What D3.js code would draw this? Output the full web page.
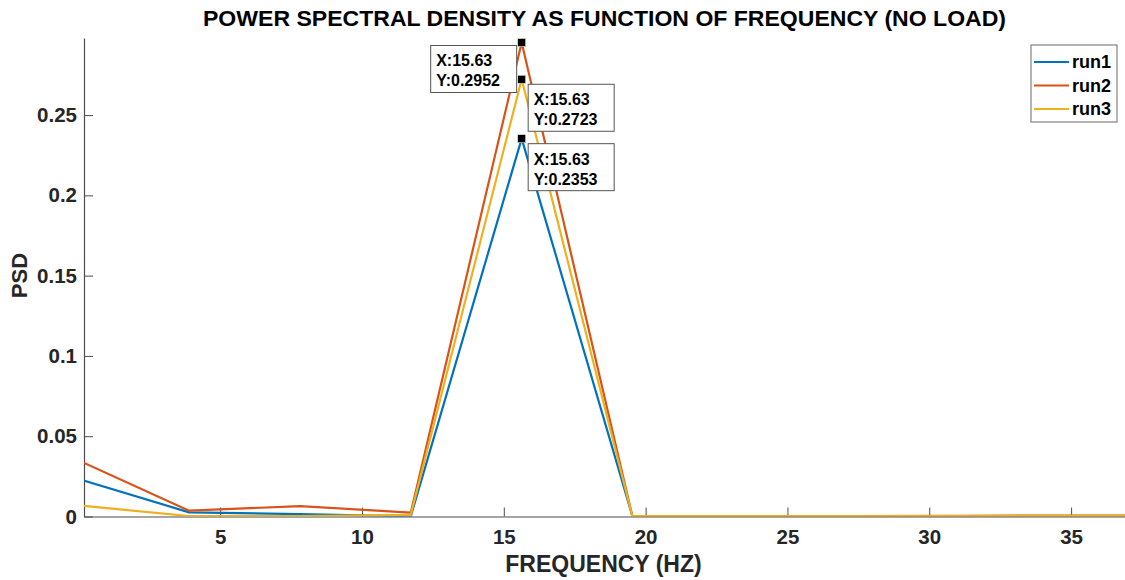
<!DOCTYPE html>
<html>
<head>
<meta charset="utf-8">
<script src="https://cdn.jsdelivr.net/npm/d3@7"></script>
<style>
  body { margin: 0; background: #fff; }
  svg { display: block; font-family: "Liberation Sans", Arial, Helvetica, sans-serif; }
</style>
</head>
<body>
<div id="chart"></div>
<script>
// data
const freqs = [0, 3.906, 7.813, 11.72, 15.63, 19.53, 23.44, 27.34, 31.25, 35.16, 39.06];
const run1 = [0.0234, 0.0026, 0.0015, 0.0001, 0.2353, 0.0004, 0.0002, 0.0001, 0.0001, 0.0002, 0.0002];
const run2 = [0.0350, 0.0036, 0.0065, 0.0024, 0.2952, 0.0003, 0.0003, 0.0002, 0.0004, 0.0006, 0.0006];
const run3 = [0.0069, 0.0003, 0.0003, 0.0010, 0.2723, 0.0002, 0.0003, 0.0002, 0.0003, 0.0004, 0.0004];
const seriesNames = ["run1", "run2", "run3"];
const seriesColors = ["#0072BD", "#D95319", "#EDB120"];
const xTicks = [5, 10, 15, 20, 25, 30, 35];
const yTicks = [0, 0.05, 0.1, 0.15, 0.2, 0.25];
// data tips: series index, index of point, side of box
const tips = [
    {s: 1, i: 4, side: "left"},
    {s: 2, i: 4, side: "right"},
    {s: 0, i: 4, side: "right"}
];

const width = 1125, height = 580;
const margin = {top: 38, left: 84, bottom: 63.5, right: 0};
const iw = width - margin.left - margin.right;
const ih = height - margin.top - margin.bottom;

const series = [run1, run2, run3].map((vals, k) => ({
    name: seriesNames[k],
    color: seriesColors[k],
    values: vals.map((v, i) => ({f: freqs[i], v: v}))
}));

const xScale = d3.scaleLinear().domain([0.2, 36.9]).range([0, iw]);
const yScale = d3.scaleLinear().domain([0, 0.298]).range([ih, 0]);

const svg = d3.select("#chart").append("svg").attr("width", width).attr("height", height);
const g = svg.append("g").attr("transform", `translate(${margin.left},${margin.top})`);

g.append("clipPath").attr("id", "plot-clip")
    .append("rect").attr("x", 0).attr("y", -10).attr("width", iw).attr("height", ih + 10);

// axes
const xAxis = d3.axisBottom(xScale).tickValues(xTicks).tickSizeInner(-9).tickSizeOuter(0).tickPadding(13);
const yAxis = d3.axisLeft(yScale).tickValues(yTicks).tickSizeInner(-9).tickSizeOuter(0).tickPadding(7)
    .tickFormat(d3.format("~g"));

const gx = g.append("g").attr("transform", `translate(0,${ih})`).call(xAxis);
const gy = g.append("g").call(yAxis);

[gx, gy].forEach(a => {
    a.select(".domain").attr("stroke", "#4d4d4d").attr("stroke-width", 1.2);
    a.selectAll(".tick line").attr("stroke", "#4d4d4d").attr("stroke-width", 1);
    a.selectAll(".tick text")
        .attr("fill", "#262626")
        .style("font-size", "20.5px")
        .style("font-weight", "bold")
        .style("font-family", "'Liberation Sans', Arial, sans-serif");
});

// lines
const line = d3.line().x(d => xScale(d.f)).y(d => yScale(d.v));

g.append("g").attr("clip-path", "url(#plot-clip)")
    .selectAll("path.run")
    .data(series)
    .join("path")
    .attr("class", "run")
    .attr("fill", "none")
    .attr("stroke", d => d.color)
    .attr("stroke-width", 2.2)
    .attr("stroke-linejoin", "round")
    .attr("d", d => line(d.values));

// data tips
const tipG = g.append("g");
tips.forEach(t => {
    const p = series[t.s].values[t.i];
    const px = xScale(p.f), py = yScale(p.v);
    const bw = 86, bh = 47;
    const bx = t.side === "left" ? px - 91 : px + 6.5;
    const by = t.side === "left" ? py + 3 : py + 5;
    tipG.append("rect")
        .attr("x", bx).attr("y", by).attr("width", bw).attr("height", bh)
        .attr("fill", "#fff").attr("stroke", "#555").attr("stroke-width", 1);
    tipG.append("text").attr("x", bx + 5.5).attr("y", by + 21)
        .attr("fill", "#000").style("font-size", "16px").style("font-weight", "bold")
        .text("X:" + p.f.toFixed(2));
    tipG.append("text").attr("x", bx + 5.5).attr("y", by + 41)
        .attr("fill", "#000").style("font-size", "16px").style("font-weight", "bold")
        .text("Y:" + p.v.toFixed(4));
    tipG.append("rect")
        .attr("x", px - 4).attr("y", py - 4).attr("width", 8).attr("height", 8)
        .attr("fill", "#000").attr("stroke", "#e8e8d8").attr("stroke-width", 0.6);
});

// legend
const leg = svg.append("g").attr("transform", "translate(1031,45)");
leg.append("rect").attr("width", 86).attr("height", 77)
    .attr("fill", "#fff").attr("stroke", "#6b6b6b").attr("stroke-width", 1);
series.forEach((s, k) => {
    const ly = 17 + k * 23.5;
    leg.append("line").attr("x1", 3).attr("x2", 38).attr("y1", ly).attr("y2", ly)
        .attr("stroke", s.color).attr("stroke-width", 2.2);
    leg.append("text").attr("x", 41).attr("y", ly).attr("dy", "0.35em")
        .attr("fill", "#000").style("font-size", "18px").style("font-weight", "bold")
        .text(s.name);
});

// title and axis labels
svg.append("text")
    .attr("x", margin.left + iw / 2).attr("y", 26)
    .attr("text-anchor", "middle").attr("fill", "#000")
    .style("font-size", "22px").style("font-weight", "bold")
    .attr("textLength", 803).attr("lengthAdjust", "spacingAndGlyphs")
    .text("POWER SPECTRAL DENSITY AS FUNCTION OF FREQUENCY (NO LOAD)");

svg.append("text")
    .attr("x", 603.5).attr("y", 572)
    .attr("text-anchor", "middle").attr("fill", "#262626")
    .style("font-size", "23px").style("font-weight", "bold")
    .text("FREQUENCY (HZ)");

svg.append("text")
    .attr("transform", "translate(27,275.5) rotate(-90)")
    .attr("text-anchor", "middle").attr("fill", "#262626")
    .style("font-size", "22px").style("font-weight", "bold")
    .text("PSD");
</script>
</body>
</html>
